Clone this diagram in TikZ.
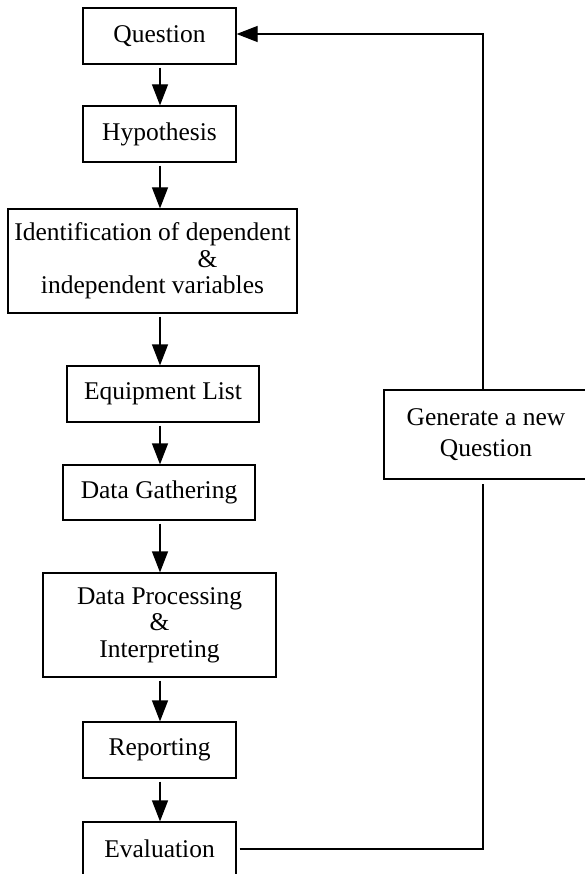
\documentclass[tikz,border=0pt]{standalone}
\usepackage{fontspec}
\setmainfont{Liberation Serif}
\usetikzlibrary{arrows.meta}

\tikzset{
  stage/.style={draw, line width=1.2pt, align=center, inner sep=0pt,
    font=\fontsize{25.5}{26.5}\selectfont},
  flow/.style={line width=1.2pt, -{Triangle[length=21pt,width=16pt]}},
  link/.style={line width=1.2pt},
}

\begin{document}
\begin{tikzpicture}[x=1pt,y=-1pt]
\useasboundingbox (0,0) rectangle (584,874);

\node[stage, minimum width=153pt, minimum height=56pt] (q) at (159.5,36) {Question};
\node[stage, minimum width=153pt, minimum height=56pt] (hyp) at (159.5,134) {Hypothesis};
\node[stage, minimum width=289pt, minimum height=104pt] (ident) at (152.5,261)
  {Identification of dependent\\ \hspace*{110pt}\&\\ independent variables};
\node[stage, minimum width=192pt, minimum height=56pt] (equip) at (163,394) {Equipment List};
\node[stage, minimum width=192pt, minimum height=55pt] (gather) at (159,492.5) {Data Gathering};
\node[stage, minimum width=233pt, minimum height=104pt] (proc) at (159.5,625)
  {Data Processing\\ \&\\ Interpreting};
\node[stage, minimum width=153pt, minimum height=56pt] (report) at (159.5,750) {Reporting};
\node[stage, minimum width=153pt, minimum height=54pt] (eval) at (159.5,849) {Evaluation};
\node[stage, minimum width=204pt, minimum height=89pt, font=\fontsize{25.5}{31}\selectfont]
  (newq) at (486,434.5) {Generate a new\\ Question};

\coordinate (spine) at (160,0);
\coordinate (looptop) at (483,34);

\foreach \from/\to in {q/hyp, hyp/ident, ident/equip, equip/gather, gather/proc, proc/report, report/eval}
  \draw[flow, shorten <=3pt] (\from.south -| spine) -- (\to.north -| spine);

% feedback loop
\draw[link] ([xshift=3pt]eval.east) -- (eval.east -| looptop) -- ([yshift=-4pt]newq.south -| looptop);
\draw[flow] (newq.north -| looptop) -- (looptop) -- (looptop -| q.east);

\end{tikzpicture}
\end{document}
